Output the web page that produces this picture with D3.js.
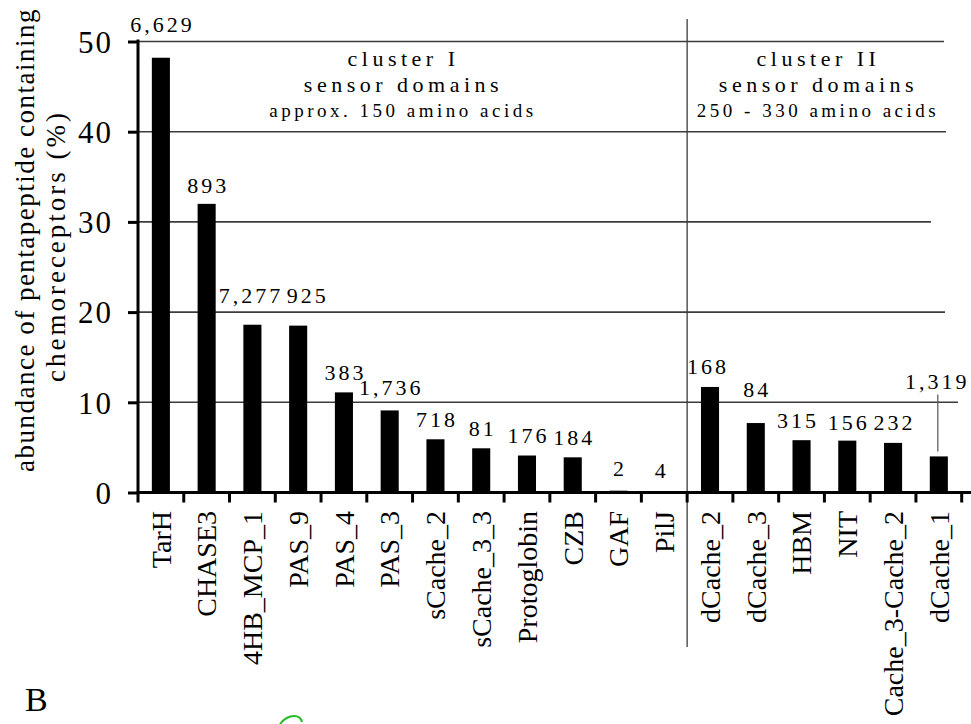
<!DOCTYPE html>
<html>
<head>
<meta charset="utf-8">
<script src="https://cdn.jsdelivr.net/npm/d3@7"></script>
<style>
  html, body { margin: 0; padding: 0; background: #fff; }
  svg { display: block; font-family: "Liberation Serif", "Times New Roman", serif; }
</style>
</head>
<body>
<svg id="chart" width="971" height="724"></svg>
<script>
// Sensor domain families of chemoreceptors
const domains = ["TarH", "CHASE3", "4HB_MCP_1", "PAS_9", "PAS_4", "PAS_3", "sCache_2",
  "sCache_3_3", "Protoglobin", "CZB", "GAF", "PilJ",
  "dCache_2", "dCache_3", "HBM", "NIT", "Cache_3-Cache_2", "dCache_1"];
// Share of chemoreceptors that carry the C-terminal pentapeptide (%)
const abundance = [48.2, 32.0, 18.6, 18.5, 11.1, 9.1, 5.9, 4.9, 4.1, 3.9, 0.2, 0,
  11.7, 7.7, 5.8, 5.75, 5.5, 4.0];
// Number of chemoreceptors with each domain
const counts = ["6,629", "893", "7,277", "925", "383", "1,736", "718", "81", "176", "184", "2", "4",
  "168", "84", "315", "156", "232", "1,319"];
// Cluster membership of each domain
const clusterOf = ["I", "I", "I", "I", "I", "I", "I", "I", "I", "I", "I", "I",
  "II", "II", "II", "II", "II", "II"];
const clusterTitles = ["cluster I", "cluster II"];
const clusterSizes = ["approx. 150 amino acids", "250 - 330 amino acids"];
const yTicks = [0, 10, 20, 30, 40, 50];

const svg = d3.select("#chart");
const x0 = 138, x1 = 961.7, yBase = 492.5, yTop = 41.5;

const x = d3.scaleBand().domain(domains).range([x0, x1]).padding(0);
const y = d3.scaleLinear().domain([0, 50]).range([yBase, yTop]);
const barW = x.bandwidth() * 0.395;

// Horizontal grid lines (each ends a little differently)
const gridEnd = {10: 958, 20: 945, 30: 931, 40: 946, 50: 944};
svg.append("g").selectAll("line")
  .data(yTicks.filter(d => d > 0))
  .join("line")
  .attr("x1", x0).attr("x2", d => gridEnd[d])
  .attr("y1", d => y(d)).attr("y2", d => y(d))
  .attr("stroke", "#3c3c3c").attr("stroke-width", 1.6);

// Divider between the two clusters
const firstII = domains[clusterOf.indexOf("II")];
const xDiv = x(firstII);
svg.append("line")
  .attr("x1", xDiv).attr("x2", xDiv).attr("y1", 19).attr("y2", 647)
  .attr("stroke", "#3c3c3c").attr("stroke-width", 1.3);

// Bars
svg.append("g").selectAll("rect")
  .data(domains)
  .join("rect")
  .attr("x", d => x(d) + x.bandwidth() / 2 - barW / 2)
  .attr("width", barW)
  .attr("y", (d, i) => y(abundance[i]))
  .attr("height", (d, i) => yBase - y(abundance[i]))
  .attr("fill", "#000");

// Count labels above bars; some are lifted to clear grid lines
const lift = {"TarH": 26, "4HB_MCP_1": 22, "PAS_9": 22.5, "PAS_3": 15, "GAF": 15, "PilJ": 15,
  "dCache_3": 26, "dCache_1": 67, "NIT": 11, "CHASE3": 11};
const nudge = {"PAS_9": 8, "4HB_MCP_1": -3, "HBM": -5, "PilJ": -4, "dCache_2": -3.5, "dCache_1": -3};
const lblLS = 3;
svg.append("g").selectAll("text")
  .data(domains)
  .join("text")
  .attr("x", d => x(d) + x.bandwidth() / 2 + (nudge[d] || 0) + lblLS / 2)
  .attr("y", (d, i) => y(abundance[i]) - (lift[d] !== undefined ? lift[d] : 12.5))
  .attr("text-anchor", "middle")
  .attr("font-size", 22)
  .attr("letter-spacing", lblLS)
  .attr("fill", "#000")
  .text((d, i) => counts[i]);

// Leader line for the last cluster II label
const lastName = domains[domains.length - 1];
const lastC = x(lastName) + x.bandwidth() / 2 - 1;
svg.append("line")
  .attr("x1", lastC).attr("x2", lastC)
  .attr("y1", y(abundance[abundance.length - 1]) - 62)
  .attr("y2", y(abundance[abundance.length - 1]) - 5)
  .attr("stroke", "#555").attr("stroke-width", 1.2);

// Y axis
const yAxis = d3.axisLeft(y).tickValues(yTicks).tickSize(10).tickFormat(d3.format("d"));
const gy = svg.append("g").attr("transform", `translate(${x0},0)`).call(yAxis);
gy.attr("font-family", null);
gy.select(".domain").remove();
gy.selectAll(".tick line").attr("stroke", "#000").attr("stroke-width", 3);
gy.selectAll(".tick text")
  .attr("font-size", 31)
  .attr("letter-spacing", 2)
  .attr("x", -25)
  .attr("dy", "0.35em")
  .attr("fill", "#000");
svg.append("line")
  .attr("x1", x0).attr("x2", x0).attr("y1", yTop - 2).attr("y2", yBase + 1.5)
  .attr("stroke", "#000").attr("stroke-width", 3);

// X axis with ticks at band edges
svg.append("line")
  .attr("x1", x0 - 1.5).attr("x2", 971).attr("y1", yBase).attr("y2", yBase)
  .attr("stroke", "#000").attr("stroke-width", 3);
const edges = domains.map(d => x(d)).concat([x1]);
svg.append("g").selectAll("line")
  .data(edges)
  .join("line")
  .attr("x1", d => d).attr("x2", d => d)
  .attr("y1", yBase).attr("y2", yBase + 10)
  .attr("stroke", "#000").attr("stroke-width", 3);

// Rotated domain names
svg.append("g").selectAll("text")
  .data(domains)
  .join("text")
  .attr("transform", d => `translate(${x(d) + x.bandwidth() / 2},511) rotate(-90)`)
  .attr("dy", "0.35em")
  .attr("text-anchor", "end")
  .attr("font-size", 28)
  .attr("fill", "#000")
  .text(d => d);

// Y axis title
const yt = svg.append("g").attr("font-size", 27).attr("fill", "#000");
yt.append("text")
  .attr("transform", "translate(34,240) rotate(-90)")
  .attr("text-anchor", "middle")
  .attr("letter-spacing", 1.5)
  .text("abundance of pentapeptide containing");
yt.append("text")
  .attr("transform", "translate(65,246) rotate(-90)")
  .attr("text-anchor", "middle")
  .attr("letter-spacing", 3)
  .text("chemoreceptors (%)");

// Cluster headings
const headX = [401, 816];
clusterTitles.forEach((t, i) => {
  const g = svg.append("g").attr("text-anchor", "middle").attr("fill", "#000");
  g.append("text").attr("x", headX[i] + 2.5).attr("y", 65.7)
    .attr("font-size", 22).attr("letter-spacing", 4.5).text(t);
  g.append("text").attr("x", headX[i] + 2.5).attr("y", 92)
    .attr("font-size", 22).attr("letter-spacing", 4.5).text("sensor domains");
  g.append("text").attr("x", headX[i] + 2).attr("y", 116.7)
    .attr("font-size", 19).attr("letter-spacing", 3.5).text(clusterSizes[i]);
});

// Panel letter
svg.append("text").attr("x", 25).attr("y", 711)
  .attr("font-size", 34).attr("fill", "#000").text("B");

// Small green pen stroke near the bottom edge
svg.append("path")
  .attr("d", "M280,724 C284,719 289,716 294,716 C298,716 301,718 302,722")
  .attr("fill", "none").attr("stroke", "#22bb22").attr("stroke-width", 2);
</script>
</body>
</html>
